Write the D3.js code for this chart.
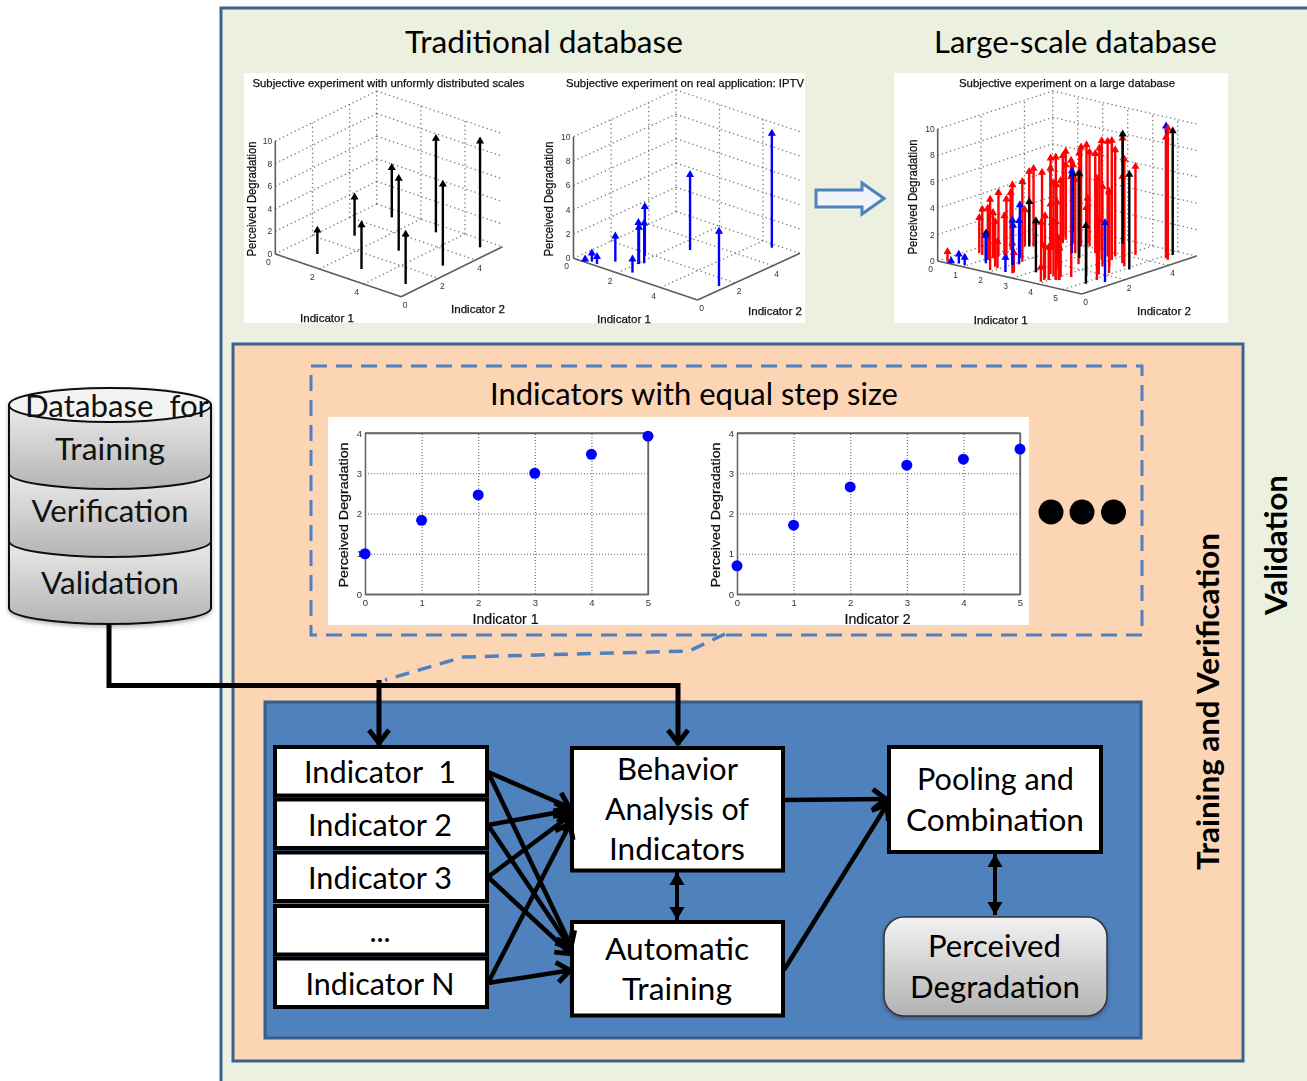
<!DOCTYPE html>
<html lang="en">
<head>
<meta charset="UTF-8">
<title>Perceived degradation training framework</title>
<script src="https://cdnjs.cloudflare.com/ajax/libs/d3/7.8.5/d3.min.js"></script>
<style>
    body { margin: 0; background: #fff; overflow: hidden; }
    svg { display: block; }
    text { white-space: pre; }
</style>
</head>
<body>
<svg id="chart" width="1307" height="1081"></svg>
<script>
// [indicator 1, indicator 2, perceived degradation]
const uniformStems = [
    [1.13, 0.92, 2.1], [1.13, 2.92, 3.4], [3.13, 0.92, 3.9],
    [1.13, 4.92, 4.4], [3.13, 2.92, 6.4], [5.13, 0.92, 4.4],
    [3.13, 4.92, 8.3], [5.13, 2.92, 7.2], [5.13, 4.92, 9.4]
];
const iptvStems = [
    [0.50, 0.04, 0.2], [0.68, 0.19, 0.7], [0.95, 0.15, 0.6], [1.30, 0.72, 2.1],
    [2.39, 0.37, 1.1], [2.06, 1.10, 3.0], [2.05, 1.08, 3.4], [2.16, 1.26, 3.3],
    [1.75, 1.77, 4.05], [2.60, 3.19, 6.2], [5.46, 1.42, 4.5], [4.63, 5.19, 9.4]
];
const largeStems = [
    [0.28, 0.13, 0.76], [0.43, 1.42, 2.70], [0.62, 1.34, 3.46], [1.11, 1.03, 3.91],
    [1.88, 0.25, 5.35], [1.11, 1.27, 3.46], [1.76, 0.62, 3.41], [1.93, 0.53, 2.02],
    [1.12, 1.51, 4.85], [1.14, 1.76, 2.95], [1.55, 1.38, 4.60], [0.93, 2.29, 4.34],
    [1.81, 1.36, 5.81], [2.64, 0.40, 2.27], [2.63, 0.48, 1.52], [2.04, 1.55, 6.06],
    [1.03, 2.83, 2.78], [0.89, 3.19, 5.43], [1.23, 3.00, 5.91], [1.43, 3.16, 5.61],
    [3.08, 1.22, 3.59], [3.91, 0.25, 1.09], [3.77, 0.60, 4.72], [3.87, 0.45, 2.58],
    [3.98, 0.53, 2.47], [1.87, 3.05, 6.94], [1.15, 3.87, 5.43], [1.92, 3.09, 2.15],
    [1.99, 3.15, 7.02], [4.14, 0.67, 4.42], [4.21, 0.72, 3.16], [1.68, 3.83, 6.62],
    [1.51, 4.16, 6.69], [1.27, 4.43, 5.43], [4.23, 0.74, 2.40], [1.16, 4.81, 5.51],
    [1.92, 4.02, 5.93], [2.69, 3.24, 5.56], [2.07, 4.14, 6.82], [2.35, 3.90, 7.53],
    [2.48, 4.00, 7.70], [2.55, 4.06, 7.15], [2.26, 4.30, 3.41], [3.16, 3.62, 7.53],
    [5.11, 1.45, 7.70], [3.02, 3.97, 7.70], [3.79, 3.19, 9.02], [4.29, 2.65, 6.06],
    [3.69, 3.58, 8.71], [4.45, 2.78, 5.61], [4.03, 3.38, 9.04], [3.87, 3.72, 8.08],
    [4.52, 3.31, 9.47], [4.80, 3.07, 8.13], [4.23, 4.24, 6.69], [4.52, 3.31, 6.57],
    [3.85, 0.90, 7.10], [4.05, 1.00, 7.30], [4.30, 1.20, 7.60], [3.40, 1.55, 6.40],
    [2.95, 2.10, 4.60], [3.55, 2.40, 6.90], [4.60, 1.55, 5.20], [4.75, 1.95, 4.10],
    [3.60, 1.05, 5.30], [4.90, 2.25, 6.20]
];
const farStems = [[5.19, 4.54, 9.14], [5.35, 4.44, 9.97]];

const scatterX = [0, 1, 2, 3, 4, 5];
const indicator1Scores = [1.0, 1.83, 2.46, 3.0, 3.47, 3.92];
const indicator2Scores = [0.7, 1.71, 2.66, 3.2, 3.35, 3.6];

const indicatorLabels = ["Indicator  1", "Indicator 2", "Indicator 3", "...", "Indicator N"];
const databaseLabels = ["Database  for", "Training", "Verification", "Validation"];

const svg = d3.select("#chart");
const defs = svg.append("defs");

const soft = defs.append("filter").attr("id", "soft");
soft.append("feGaussianBlur").attr("stdDeviation", 0.45);

const shadow = defs.append("filter").attr("id", "shadow")
    .attr("x", "-5%").attr("y", "-5%").attr("width", "110%").attr("height", "110%");
shadow.append("feDropShadow").attr("dx", 0).attr("dy", 2).attr("stdDeviation", 2)
    .attr("flood-color", "#000").attr("flood-opacity", 0.3);

function grayGradient(id, from, to) {
    const g = defs.append("linearGradient").attr("id", id)
        .attr("x1", 0).attr("y1", 0).attr("x2", 0).attr("y2", 1);
    g.append("stop").attr("offset", 0).attr("stop-color", from);
    g.append("stop").attr("offset", 1).attr("stop-color", to);
}
grayGradient("drum", "#ebebeb", "#b4b4b4");
grayGradient("pill", "#f2f2f2", "#b2b2b2");

defs.append("marker").attr("id", "open").attr("markerUnits", "userSpaceOnUse")
    .attr("viewBox", "-18 -14 22 28").attr("markerWidth", 22).attr("markerHeight", 28)
    .attr("refX", 0).attr("refY", 0).attr("orient", "auto")
    .append("path").attr("d", "M-15,-10L-2,0L-15,10").attr("fill", "none")
    .attr("stroke", "#000").attr("stroke-width", 5);
defs.append("marker").attr("id", "solid").attr("markerUnits", "userSpaceOnUse")
    .attr("viewBox", "-14 -9 16 18").attr("markerWidth", 16).attr("markerHeight", 18)
    .attr("refX", 0).attr("refY", 0).attr("orient", "auto-start-reverse")
    .append("path").attr("d", "M-13,-7.5L0,0L-13,7.5Z").attr("fill", "#000");

const CALIBRI = "Lato, sans-serif";
const ARIAL = "'Liberation Sans', Arial, sans-serif";

function label(parent, str, x, y, o = {}) {
    const t = parent.append("text").text(str)
        .attr("text-anchor", o.anchor || "middle")
        .attr("font-family", o.family || CALIBRI)
        .attr("font-size", o.size || 30)
        .attr("font-weight", o.weight || "normal")
        .attr("fill", o.fill || "#000");
    if (o.bold) t.attr("stroke", o.fill || "#000").attr("stroke-width", o.bold);
    if (o.w) t.attr("textLength", o.w).attr("lengthAdjust", "spacingAndGlyphs");
    if (o.rotate) t.attr("transform", `translate(${x},${y}) rotate(${o.rotate})`);
    else t.attr("x", x).attr("y", y);
    return t;
}

function box(parent, x0, y0, x1, y1, fill, stroke, sw) {
    return parent.append("rect").attr("x", x0).attr("y", y0)
        .attr("width", x1 - x0).attr("height", y1 - y0)
        .attr("fill", fill).attr("stroke", stroke).attr("stroke-width", sw);
}

// panels
box(svg, 221, 8, 1330, 1110, "#ebf1de", "#3a6190", 3);
box(svg, 233, 344, 1243, 1061, "#fcd5b5", "#3a6190", 3);
box(svg, 311, 366, 1142, 635, "none", "#4f81bd", 3).attr("stroke-dasharray", "16 9");
box(svg, 265, 702, 1141, 1038, "#4f81bd", "#385d8a", 3);

box(svg, 244, 73, 805, 323, "#fff", "none", 0);
box(svg, 894, 73, 1228, 323, "#fff", "none", 0);
box(svg, 328, 417, 1029, 625, "#fff", "none", 0);

label(svg, "Traditional database", 544, 53, { w: 278 });
label(svg, "Large-scale database", 1075.5, 53, { w: 283 });
label(svg, "Indicators with equal step size", 694, 405, { w: 408 });

// 3D stem plots
function stemPlot(cfg) {
    const g = svg.append("g").attr("filter", "url(#soft)");
    const xX = d3.scaleLinear().domain([0, cfg.xMax]).range([0, cfg.bottom[0] - cfg.origin[0]]);
    const xY = d3.scaleLinear().domain([0, cfg.xMax]).range([0, cfg.bottom[1] - cfg.origin[1]]);
    const yX = d3.scaleLinear().domain([0, cfg.yMax]).range([0, cfg.right[0] - cfg.bottom[0]]);
    const yY = d3.scaleLinear().domain([0, cfg.yMax]).range([0, cfg.right[1] - cfg.bottom[1]]);
    const zY = d3.scaleLinear().domain([0, 10]).range([0, cfg.zTop - cfg.origin[1]]);
    const project = (a, b, c) => [
        cfg.origin[0] + xX(a) + yX(b),
        cfg.origin[1] + xY(a) + yY(b) + zY(c)
    ];
    const seg = (p, q, cls) => {
        const l = g.append("line").attr("x1", p[0]).attr("y1", p[1]).attr("x2", q[0]).attr("y2", q[1]);
        if (cls === "grid") l.attr("stroke", "#777").attr("stroke-width", 1.3).attr("stroke-dasharray", "1.3 3");
        else l.attr("stroke", "#5c5c5c").attr("stroke-width", 1.6);
    };
    const zTicks = d3.range(0, 11, 2);
    zTicks.forEach(z => {
        seg(project(0, 0, z), project(0, cfg.yMax, z), "grid");
        seg(project(0, cfg.yMax, z), project(cfg.xMax, cfg.yMax, z), "grid");
    });
    cfg.yTicks.filter(t => t > 0).forEach(t => {
        seg(project(0, t, 0), project(0, t, 10), "grid");
        seg(project(0, t, 0), project(cfg.xMax, t, 0), "grid");
    });
    cfg.xTicks.filter(t => t > 0).forEach(t => {
        seg(project(t, cfg.yMax, 0), project(t, cfg.yMax, 10), "grid");
        seg(project(t, 0, 0), project(t, cfg.yMax, 0), "grid");
    });
    seg(project(0, cfg.yMax, 0), project(0, cfg.yMax, 10), "grid");
    seg(project(0, 0, 0), project(0, 0, 10), "axis");
    seg(project(0, 0, 0), project(cfg.xMax, 0, 0), "axis");
    seg(project(cfg.xMax, 0, 0), project(cfg.xMax, cfg.yMax, 0), "axis");

    const tick = { family: ARIAL, size: 8.5, fill: "#333" };
    zTicks.forEach(z => {
        const p = project(0, 0, z);
        label(g, String(z), p[0] - 3, p[1] + 3, { ...tick, anchor: "end" });
    });
    cfg.xTicks.forEach(t => {
        const p = project(t, 0, 0);
        label(g, String(t), p[0] - 7, p[1] + 11, tick);
    });
    cfg.yTicks.forEach(t => {
        const p = project(cfg.xMax, t, 0);
        label(g, String(t), p[0] + 4, p[1] + 11, tick);
    });

    const text = { family: ARIAL, fill: "#111", bold: 0.25 };
    label(g, cfg.title, cfg.titleX, 87, { ...text, size: 11, w: cfg.titleW });
    label(g, "Perceived Degradation", cfg.zLabel[0], cfg.zLabel[1], { ...text, size: 12, w: 115, rotate: -90 });
    label(g, "Indicator 1", cfg.xLabel[0], cfg.xLabel[1], { ...text, size: 10.5, w: 54 });
    label(g, "Indicator 2", cfg.yLabel[0], cfg.yLabel[1], { ...text, size: 10.5, w: 54 });

    const head = d3.symbol(d3.symbolTriangle, 28);
    cfg.series.forEach(s => {
        s.data.forEach(d => {
            const p0 = project(d[0], d[1], 0), p1 = project(d[0], d[1], d[2]);
            g.append("line").attr("x1", p0[0]).attr("y1", p0[1]).attr("x2", p1[0]).attr("y2", p1[1])
                .attr("stroke", s.color).attr("stroke-width", 2.4);
            g.append("path").attr("d", head()).attr("fill", s.color)
                .attr("transform", `translate(${p1[0]},${p1[1]})`);
        });
    });
}

stemPlot({
    origin: [275.3, 254], bottom: [401.1, 296.7], right: [502.5, 246.7], zTop: 141,
    xMax: 5.7, yMax: 5.45, xTicks: [0, 2, 4], yTicks: [0, 2, 4],
    title: "Subjective experiment with unformly distributed scales", titleX: 388.5, titleW: 272,
    zLabel: [256, 199], xLabel: [327, 322], yLabel: [478, 313],
    series: [{ color: "#000", data: uniformStems }]
});
stemPlot({
    origin: [573.5, 258.3], bottom: [697.5, 300], right: [800, 253.3], zTop: 136.7,
    xMax: 5.7, yMax: 5.45, xTicks: [0, 2, 4], yTicks: [0, 2, 4],
    title: "Subjective experiment on real application: IPTV", titleX: 685, titleW: 238,
    zLabel: [553, 199], xLabel: [624, 323], yLabel: [775, 315],
    series: [{ color: "#0000ff", data: iptvStems }]
});
stemPlot({
    origin: [937.7, 261], bottom: [1081.7, 294], right: [1196.7, 256], zTop: 129,
    xMax: 5.76, yMax: 5.3, xTicks: [0, 1, 2, 3, 4, 5], yTicks: [0, 2, 4],
    title: "Subjective experiment on a large database", titleX: 1067, titleW: 216,
    zLabel: [917, 197], xLabel: [1000.7, 324], yLabel: [1164, 315],
    series: [
        { color: "#ff0000", data: largeStems },
        { color: "#000", data: uniformStems },
        { color: "#0000ff", data: iptvStems },
        { color: "#ff0000", data: farStems }
    ]
});

// block arrow between the plots
const blockArrow = d3.line()([[816, 190], [862, 190], [862, 183], [884, 198.5], [862, 214], [862, 207], [816, 207]]) + "Z";
svg.append("path").attr("d", blockArrow).attr("fill", "#f1f5fa")
    .attr("stroke", "#4f81bd").attr("stroke-width", 3);

// 2D scatter plots
function scatter(cfg) {
    const g = svg.append("g").attr("filter", "url(#soft)");
    const x = d3.scaleLinear().domain([0, 5]).range([cfg.left, cfg.right]);
    const y = d3.scaleLinear().domain([0, 4]).range([594, 433]);

    const xAxis = g.append("g").attr("transform", "translate(0,594)")
        .call(d3.axisBottom(x).tickValues(scatterX).tickFormat(d3.format("d")).tickSize(-161).tickPadding(5));
    const yAxis = g.append("g").attr("transform", `translate(${cfg.left},0)`)
        .call(d3.axisLeft(y).ticks(4).tickFormat(d3.format("d")).tickSize(-(cfg.right - cfg.left)).tickPadding(3));
    [xAxis, yAxis].forEach(a => {
        a.select(".domain").attr("stroke", "#666").attr("stroke-width", 1.3);
        a.selectAll(".tick line").attr("stroke", "#666").attr("stroke-width", 1.1).attr("stroke-dasharray", "1 2");
        a.selectAll(".tick text").attr("font-family", "'Liberation Sans Narrow', 'Liberation Sans', sans-serif")
            .attr("font-size", 9.5).attr("fill", "#333");
    });
    g.append("path").attr("fill", "none").attr("stroke", "#666").attr("stroke-width", 1.3)
        .attr("d", `M${cfg.left},433H${cfg.right}V594`);

    label(g, "Perceived Degradation", cfg.left - 17, 515, { family: ARIAL, size: 13, fill: "#111", bold: 0.25, w: 145, rotate: -90 });
    label(g, cfg.name, (cfg.left + cfg.right) / 2 - 1, 624, { family: ARIAL, size: 14, fill: "#111", bold: 0.2, w: 66 });

    g.selectAll("circle").data(cfg.values).join("circle")
        .attr("cx", (d, i) => x(scatterX[i]))
        .attr("cy", d => y(d))
        .attr("r", 5.5)
        .attr("fill", "#0000ff");
}
scatter({ left: 365, right: 648, values: indicator1Scores, name: "Indicator 1" });
scatter({ left: 737, right: 1020, values: indicator2Scores, name: "Indicator 2" });

svg.selectAll("circle.more").data([1051, 1082, 1113.5]).join("circle")
    .attr("class", "more").attr("cx", d => d).attr("cy", 512).attr("r", 12.5).attr("fill", "#000");

// dashed connector from the indicator plots
svg.append("path").attr("fill", "none").attr("stroke", "#4f81bd").attr("stroke-width", 3.5)
    .attr("stroke-dasharray", "14 9")
    .attr("d", d3.line()([[725, 634], [689, 651], [463, 657], [385, 680]]));

// database cylinder
const drum = svg.append("g").attr("filter", "url(#shadow)");
[[541, 608, 16], [473, 541, 16], [405, 473, 16]].forEach(s => {
    drum.append("path")
        .attr("d", `M9,${s[0]}L211,${s[0]}L211,${s[1]}A101,${s[2]} 0 0 1 9,${s[1]}Z`)
        .attr("fill", "url(#drum)").attr("stroke", "#111").attr("stroke-width", 2);
});
drum.append("ellipse").attr("cx", 110).attr("cy", 405).attr("rx", 101).attr("ry", 17)
    .attr("fill", "#f4f4f4").attr("stroke", "#111").attr("stroke-width", 2);
label(svg, databaseLabels[0], 117, 417, { w: 184, fill: "#111" });
label(svg, databaseLabels[1], 110, 460, { w: 110, fill: "#111" });
label(svg, databaseLabels[2], 110, 522, { w: 157, fill: "#111" });
label(svg, databaseLabels[3], 110, 594, { w: 138, fill: "#111" });

// indicator boxes
const rowTops = [747, 799.5, 852.5, 906, 958.5];
const rowWidths = [152, 144, 144, null, 149];
indicatorLabels.forEach((name, i) => {
    box(svg, 275, rowTops[i], 487, rowTops[i] + 48.5, "#fff", "#000", 4);
});

box(svg, 572, 748, 783, 870.5, "#fff", "#000", 4);
box(svg, 572, 922, 783, 1015.5, "#fff", "#000", 4);
box(svg, 889, 747, 1101, 852, "#fff", "#000", 4);
box(svg, 884, 917, 1107, 1016, "url(#pill)", "#333", 1.5).attr("rx", 20).attr("filter", "url(#shadow)");

indicatorLabels.forEach((name, i) => {
    label(svg, name, 380, rowTops[i] + 36, { w: rowWidths[i] || undefined });
});
[["Behavior", 677.5, 780, 121], ["Analysis of", 677, 820, 144], ["Indicators", 677, 860, 136],
 ["Automatic", 677, 960, 144], ["Training", 677, 1000, 110],
 ["Pooling and", 995.5, 790, 157], ["Combination", 995, 831, 178],
 ["Perceived", 994.5, 957, 133], ["Degradation", 995, 998, 170]
].forEach(d => label(svg, d[0], d[1], d[2], { w: d[3] }));

// connectors
function wire(points, width, endId, startId) {
    const p = svg.append("path").attr("fill", "none").attr("stroke", "#000")
        .attr("stroke-width", width).attr("d", d3.line()(points));
    if (endId) p.attr("marker-end", `url(#${endId})`);
    if (startId) p.attr("marker-start", `url(#${startId})`);
}
wire([[109, 624], [109, 685.5], [678, 685.5], [678, 745]], 5, "open");
wire([[379, 680], [379, 745]], 5, "open");

const rowMid = [772, 825, 877, 983];
const toBehavior = [808, 810, 815, 822];
const toTraining = [948, 950, 955, 970];
rowMid.forEach((y, i) => {
    wire([[488, y], [571, toBehavior[i]]], 4.5, "open");
    wire([[488, y], [572, toTraining[i]]], 4.5, "open");
});
wire([[784, 800], [888, 799]], 4.5, "open");
wire([[784, 970], [888, 803]], 4.5, "open");
wire([[677, 872], [677, 920]], 4, "solid", "solid");
wire([[995, 854], [995, 915]], 4, "solid", "solid");

// rotated side labels
label(svg, "Training and Verification", 1219, 701.5, { w: 337, weight: 700, size: 30, rotate: -90 });
label(svg, "Validation", 1287, 545, { w: 140, weight: 700, size: 30, rotate: -90 });
</script>
</body>
</html>
